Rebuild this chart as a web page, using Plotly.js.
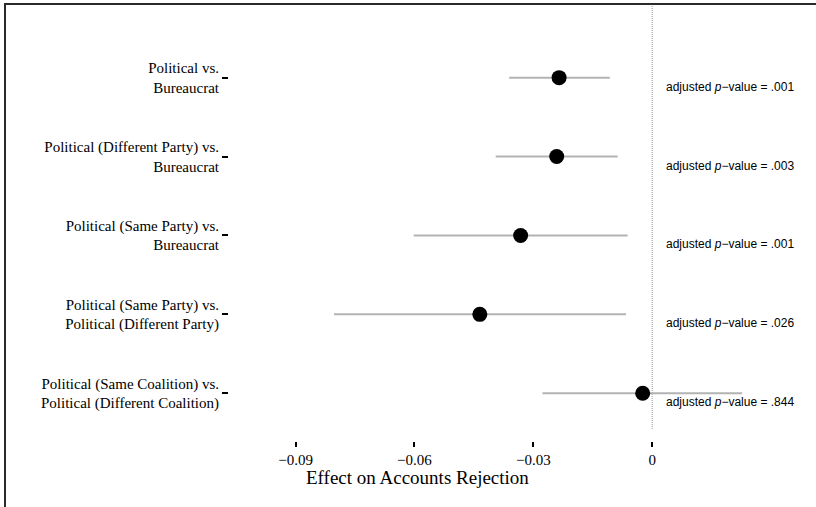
<!DOCTYPE html>
<html>
<head>
<meta charset="utf-8">
<script src="https://cdn.plot.ly/plotly-3.0.1.min.js"></script>
<style>
  html, body { margin: 0; padding: 0; background: #fff; }
  #wrap { position: relative; width: 816px; height: 507px; overflow: hidden; }
  #chart { width: 816px; height: 507px; }
  #frame { position: absolute; left: 4px; top: 3px; width: 820px; height: 520px;
           border-top: 2px solid #2a2a2a; border-left: 2px solid #2a2a2a; pointer-events: none; }
</style>
</head>
<body>
<div id="wrap">
  <div id="chart"></div>
  <div id="frame"></div>
</div>
<script>
// ---- data ----
const comparisons = [
  "Political vs.<br>Bureaucrat",
  "Political (Different Party) vs.<br>Bureaucrat",
  "Political (Same Party) vs.<br>Bureaucrat",
  "Political (Same Party) vs.<br>Political (Different Party)",
  "Political (Same Coalition) vs.<br>Political (Different Coalition)"
];
const estimates = [-0.0235, -0.0241, -0.0332, -0.0435, -0.0024];
const ciLow     = [-0.0361, -0.0395, -0.0602, -0.0803, -0.0277];
const ciHigh    = [-0.0107, -0.0087, -0.0062, -0.0066,  0.0227];
const pValues   = [".001", ".003", ".001", ".026", ".844"];
const rowPos    = [5, 4, 3, 2, 1];
const xTickVals = [-0.09, -0.06, -0.03, 0];
const xTickText = ["\u22120.09", "\u22120.06", "\u22120.03", "0"];
const xTitle = "Effect on Accounts Rejection";

const serif = "Liberation Serif, Times New Roman, serif";
const sans = "Liberation Sans, Arial, sans-serif";

const trace = {
  type: "scatter",
  mode: "markers",
  x: estimates,
  y: rowPos,
  marker: { color: "#000", size: 15 },
  error_x: {
    type: "data",
    symmetric: false,
    array: estimates.map((e, i) => ciHigh[i] - e),
    arrayminus: estimates.map((e, i) => e - ciLow[i]),
    color: "#b3b3b3",
    thickness: 2,
    width: 0
  },
  hoverinfo: "skip",
  showlegend: false
};

const annotations = pValues.map((p, i) => ({
  x: 0.003, y: rowPos[i], xref: "x", yref: "y",
  xanchor: "left", yanchor: "middle", yshift: -9,
  text: "adjusted <i>p</i>\u2212value = " + p,
  showarrow: false,
  font: { family: sans, size: 12, color: "#000" }
}));
annotations.push({
  x: 0.33, y: -0.083, xref: "paper", yref: "paper",
  xanchor: "center", yanchor: "middle",
  text: xTitle, showarrow: false,
  font: { family: serif, size: 19, color: "#000" }
});

const layout = {
  width: 816, height: 507,
  margin: { l: 229, r: 16, t: 5, b: 66 },
  paper_bgcolor: "#fff", plot_bgcolor: "#fff",
  xaxis: {
    range: [-0.1068, 0.0373],
    tickvals: xTickVals, ticktext: xTickText,
    ticks: "outside", ticklen: 5, tickwidth: 2, tickcolor: "#000",
    showgrid: false, zeroline: false, showline: false,
    tickfont: { family: serif, size: 15, color: "#000" }
  },
  yaxis: {
    range: [0.395, 5.921],
    tickvals: rowPos, ticktext: comparisons,
    ticks: "outside", ticklen: 6, tickwidth: 2, tickcolor: "#000",
    showgrid: false, zeroline: false, showline: false,
    tickfont: { family: serif, size: 15, color: "#000" }
  },
  shapes: [{
    type: "line", xref: "x", yref: "paper",
    x0: 0, x1: 0, y0: 0.0275, y1: 1,
    line: { color: "#999999", width: 1, dash: "1px,1px" },
    layer: "below"
  }],
  annotations: annotations
};

Plotly.newPlot("chart", [trace], layout, { displayModeBar: false, staticPlot: true });
</script>
</body>
</html>
